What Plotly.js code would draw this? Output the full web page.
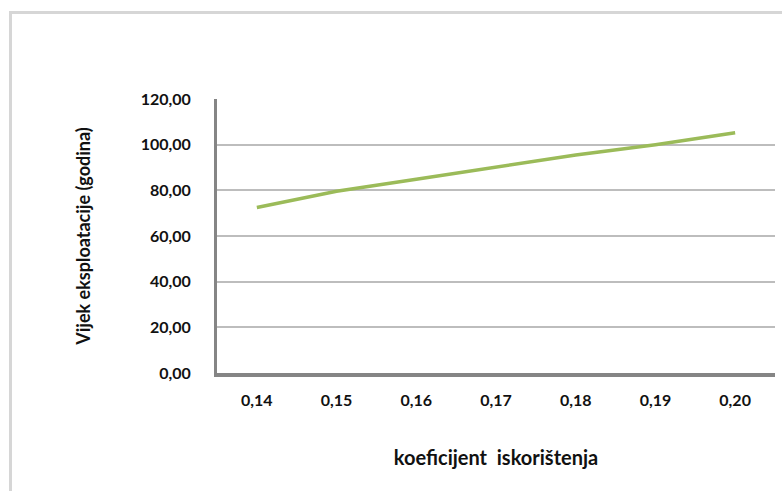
<!DOCTYPE html>
<html>
<head>
<meta charset="utf-8">
<script src="https://cdn.plot.ly/plotly-3.0.1.min.js"></script>
<style>
html,body{margin:0;padding:0;background:#fff;}
#wrap{position:relative;width:782px;height:491px;overflow:hidden;}
#chart{position:absolute;left:0;top:0;width:782px;height:491px;}
#frame{position:absolute;left:9px;top:11px;width:790px;height:500px;border:3px solid #d6d6d6;pointer-events:none;box-sizing:border-box;}
</style>
</head>
<body>
<div id="wrap">
<div id="chart"></div>
<div id="frame"></div>
</div>
<script>
const koeficijent = [0.14, 0.15, 0.16, 0.17, 0.18, 0.19, 0.20];
const vijek = [72.5, 79.6, 84.9, 90.3, 95.5, 100.0, 105.2];
const yTicks = [0, 20, 40, 60, 80, 100, 120];

const fontFam = 'Lato, "Open Sans", sans-serif';

const trace = {
  x: koeficijent,
  y: vijek,
  type: 'scatter',
  mode: 'lines',
  line: {color: '#9bbb59', width: 3.5},
  hoverinfo: 'x+y',
  showlegend: false
};

const layout = {
  width: 782,
  height: 491,
  margin: {l: 217, r: 7, t: 99, b: 118},
  paper_bgcolor: '#ffffff',
  plot_bgcolor: '#ffffff',
  separators: ',.',
  font: {family: fontFam, color: '#111111'},
  xaxis: {
    range: [0.135, 0.205],
    tickvals: koeficijent,
    tickformat: '.2f',
    showgrid: false,
    zeroline: false,
    showline: true,
    linecolor: '#858585',
    linewidth: 4,
    ticks: '',
    ticklabelstandoff: 10,
    tickfont: {family: fontFam, size: 16, color: '#111111', weight: 'bold'},
    title: {text: 'koeficijent  iskorištenja', font: {family: fontFam, size: 20, color: '#111111', weight: 'bold'}, standoff: 44},
    automargin: false,
    fixedrange: true
  },
  yaxis: {
    range: [0, 120],
    tickvals: yTicks,
    tickformat: '.2f',
    showgrid: true,
    gridcolor: '#bdbdbd',
    gridwidth: 2,
    zeroline: false,
    showline: true,
    linecolor: '#858585',
    linewidth: 3,
    ticks: '',
    ticklabelstandoff: 20,
    tickfont: {family: fontFam, size: 16, color: '#111111', weight: 'bold'},
    title: {text: 'Vijek eksploatacije (godina)', font: {family: fontFam, size: 18, color: '#111111', weight: 'bold'}, standoff: 46},
    automargin: false,
    fixedrange: true
  }
};

Plotly.newPlot('chart', [trace], layout, {displayModeBar: false, staticPlot: true});
</script>
</body>
</html>
